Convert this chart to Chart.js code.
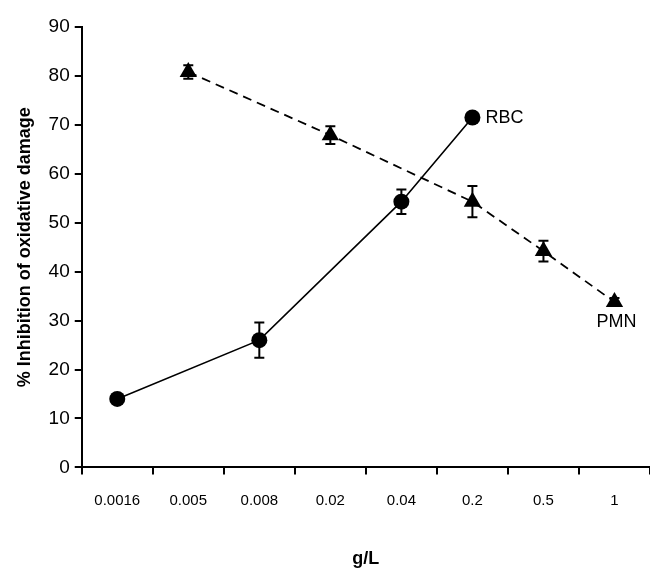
<!DOCTYPE html>
<html>
<head>
<meta charset="utf-8">
<script src="https://cdn.jsdelivr.net/npm/chart.js@4/dist/chart.umd.min.js"></script>
<style>
  body { margin: 0; background: #fff; }
  #wrap { width: 650px; height: 570px; }
</style>
</head>
<body>
<div id="wrap"><canvas id="chart" width="650" height="570"></canvas></div>
<script>
const doses = ["0.0016", "0.005", "0.008", "0.02", "0.04", "0.2", "0.5", "1"];

// RBC: solid line, circles
const rbcValues = [14, null, 26, null, 54.3, 71.5, null, null];
const rbcErrors = [0, null, 3.6, null, 2.5, 0, null, null];

// PMN: dashed line, triangles
const pmnValues = [null, 80.8, null, 67.9, null, 54.3, 44.2, 33.8];
const pmnErrors = [null, 1.4, null, 1.8, null, 3.2, 2.1, 0.8];

const yTicks = [0, 10, 20, 30, 40, 50, 60, 70, 80, 90];

const FONT = "'Liberation Sans', Arial, sans-serif";

// vertical error bars with caps, drawn in data space
const errorBars = {
  id: 'errorBars',
  afterDatasetsDraw(chart) {
    const { ctx, scales: { x, y } } = chart;
    chart.data.datasets.forEach((ds, di) => {
      const errs = ds.errors;
      if (!errs) return;
      ds.data.forEach((v, i) => {
        if (v === null || !errs[i]) return;
        const px = x.getPixelForValue(i);
        const top = y.getPixelForValue(v + errs[i]);
        const bot = y.getPixelForValue(v - errs[i]);
        ctx.save();
        ctx.strokeStyle = '#000';
        ctx.lineWidth = 2;
        ctx.beginPath();
        ctx.moveTo(px, top); ctx.lineTo(px, bot);
        ctx.moveTo(px - 5, top); ctx.lineTo(px + 5, top);
        ctx.moveTo(px - 5, bot); ctx.lineTo(px + 5, bot);
        ctx.stroke();
        ctx.restore();
      });
    });
  }
};

// series names next to the last points
const seriesLabels = {
  id: 'seriesLabels',
  afterDatasetsDraw(chart) {
    const { ctx, scales: { x, y } } = chart;
    ctx.save();
    ctx.fillStyle = '#000';
    ctx.font = `18px ${FONT}`;
    ctx.textBaseline = 'middle';
    ctx.textAlign = 'left';
    ctx.fillText('RBC', x.getPixelForValue(5) + 13, y.getPixelForValue(rbcValues[5]) + 1);
    ctx.textAlign = 'center';
    ctx.textBaseline = 'top';
    ctx.fillText('PMN', x.getPixelForValue(7) + 2, y.getPixelForValue(pmnValues[7]) + 11);
    ctx.restore();
  }
};

new Chart(document.getElementById('chart').getContext('2d'), {
  type: 'line',
  plugins: [errorBars, seriesLabels],
  data: {
    labels: doses,
    datasets: [
      {
        label: 'RBC',
        data: rbcValues,
        errors: rbcErrors,
        spanGaps: true,
        borderColor: '#000',
        borderWidth: 1.6,
        backgroundColor: '#000',
        pointStyle: 'circle',
        pointRadius: 8,
        pointBorderWidth: 0,
        tension: 0
      },
      {
        label: 'PMN',
        data: pmnValues,
        errors: pmnErrors,
        spanGaps: true,
        borderColor: '#000',
        borderWidth: 1.8,
        borderDash: [9, 6],
        backgroundColor: '#000',
        pointStyle: 'triangle',
        pointRadius: 10,
        pointBorderWidth: 0,
        tension: 0
      }
    ]
  },
  options: {
    responsive: false,
    animation: false,
    devicePixelRatio: 1,
    layout: { autoPadding: false, padding: { top: 27, right: 0, bottom: 0, left: 14 } },
    plugins: {
      legend: { display: false },
      tooltip: { enabled: false }
    },
    scales: {
      x: {
        offset: true,
        grid: { offset: true, drawOnChartArea: false, drawTicks: true, tickLength: 7, color: '#000', lineWidth: 2 },
        border: { color: '#000', width: 2 },
        ticks: { color: '#000', font: { family: FONT, size: 15 }, padding: 17, maxRotation: 0 },
        title: { display: true, text: 'g/L', color: '#000', font: { family: FONT, size: 18, weight: 'bold' }, padding: { top: 22, bottom: 0 } }
      },
      y: {
        min: 0,
        max: 90,
        afterBuildTicks: axis => { axis.ticks = yTicks.map(v => ({ value: v })); },
        grid: { drawOnChartArea: false, drawTicks: true, tickLength: 7, color: '#000', lineWidth: 2 },
        border: { color: '#000', width: 2 },
        ticks: { color: '#000', font: { family: FONT, size: 19 }, padding: 5 },
        title: { display: true, text: '% Inhibition of oxidative damage', color: '#000', font: { family: FONT, size: 18, weight: 'bold' }, padding: { top: 0, bottom: 8 } }
      }
    }
  }
});
</script>
</body>
</html>
